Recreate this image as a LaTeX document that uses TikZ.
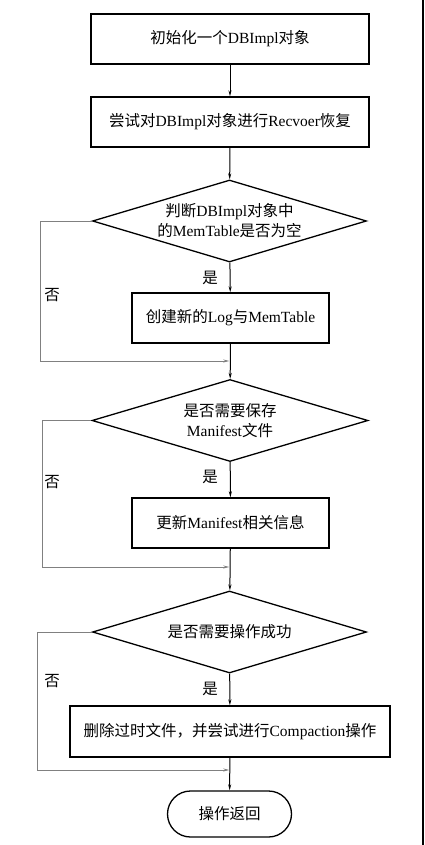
\documentclass[tikz,border=0pt]{standalone}
\usepackage{fontspec}
\setmainfont{Liberation Serif}
\newfontfamily\cjk{Noto Sans CJK SC}
\usetikzlibrary{shapes.geometric,arrows.meta}
\newcommand\zh[1]{{\cjk #1}}

\begin{document}
\begin{tikzpicture}[x=1pt,y=-1pt,
        font=\fontsize{15.5}{20}\selectfont,
        procbox/.style={draw,line width=1.3pt,minimum height=50pt,inner sep=0pt},
        decide/.style={draw,diamond,line width=1.3pt,aspect=3.34,inner sep=0pt,minimum width=274pt,minimum height=82pt,align=center},
        flow/.style={line width=1pt,-{Stealth[length=6pt,width=3pt]}},
        nopath/.style={gray,line width=1pt,-{Stealth[length=6pt,width=3pt]}}]
        \useasboundingbox (0,0) rectangle (424,845);
        \draw [line width=1.5pt] (423,0) -- (423,845);
        % process boxes
        \node[procbox,minimum width=278pt] (init) at (230,39) {\zh{初始化一个}DBImpl\zh{对象}};
        \node[procbox,minimum width=278pt] (recover) at (230,122) {\zh{尝试对}DBImpl\zh{对象进行}Recvoer\zh{恢复}};
        \node[decide] (memq) at (229.5,221) {\zh{判断}DBImpl\zh{对象中}\\\zh{的}MemTable\zh{是否为空}};
        \node[procbox,minimum width=197pt] (newlog) at (230.5,318) {\zh{创建新的}Log\zh{与}MemTable};
        \node[decide,minimum width=276pt] (saveq) at (230,420.5) {\zh{是否需要保存}\\Manifest\zh{文件}};
        \node[procbox,minimum width=197pt] (update) at (230.5,523) {\zh{更新}Manifest\zh{相关信息}};
        \node[decide] (okq) at (229.5,632) {\zh{是否需要操作成功}};
        \node[procbox,minimum width=320pt,minimum height=51pt] (clean) at (230,731.5) {\zh{删除过时文件，并尝试进行}Compaction\zh{操作}};
        \node[draw,line width=1.3pt,rounded corners=23pt,minimum width=124pt,minimum height=46pt] (ret) at (229.5,814) {\zh{操作返回}};
        % joins
        \coordinate (j1) at (229.3,361);
        \coordinate (j2) at (229.3,567);
        \coordinate (j3) at (229.3,770);
        % main flow
        \draw[flow] (init) -- (recover);
        \draw[flow] (recover) -- (memq);
        \draw[flow] (memq) -- (newlog);
        \draw[flow] (newlog) -- (saveq);
        \draw[flow] (saveq) -- (update);
        \draw[flow] (update) -- (okq);
        \draw[flow] (okq) -- (clean);
        \draw[flow] (clean) -- (ret);
        % no branches
        \draw[nopath] (memq.west) -- ++(-51,0) |- (j1);
        \draw[nopath] (saveq.west) -- ++(-49,0) |- (j2);
        \draw[nopath] (okq.west) -- ++(-54,0) |- (j3);
        % labels
        \node at (210,278) {\zh{是}};
        \node at (210,477) {\zh{是}};
        \node at (210,689) {\zh{是}};
        \node at (52,295) {\zh{否}};
        \node at (52,482) {\zh{否}};
        \node at (52,681) {\zh{否}};
\end{tikzpicture}
\end{document}
